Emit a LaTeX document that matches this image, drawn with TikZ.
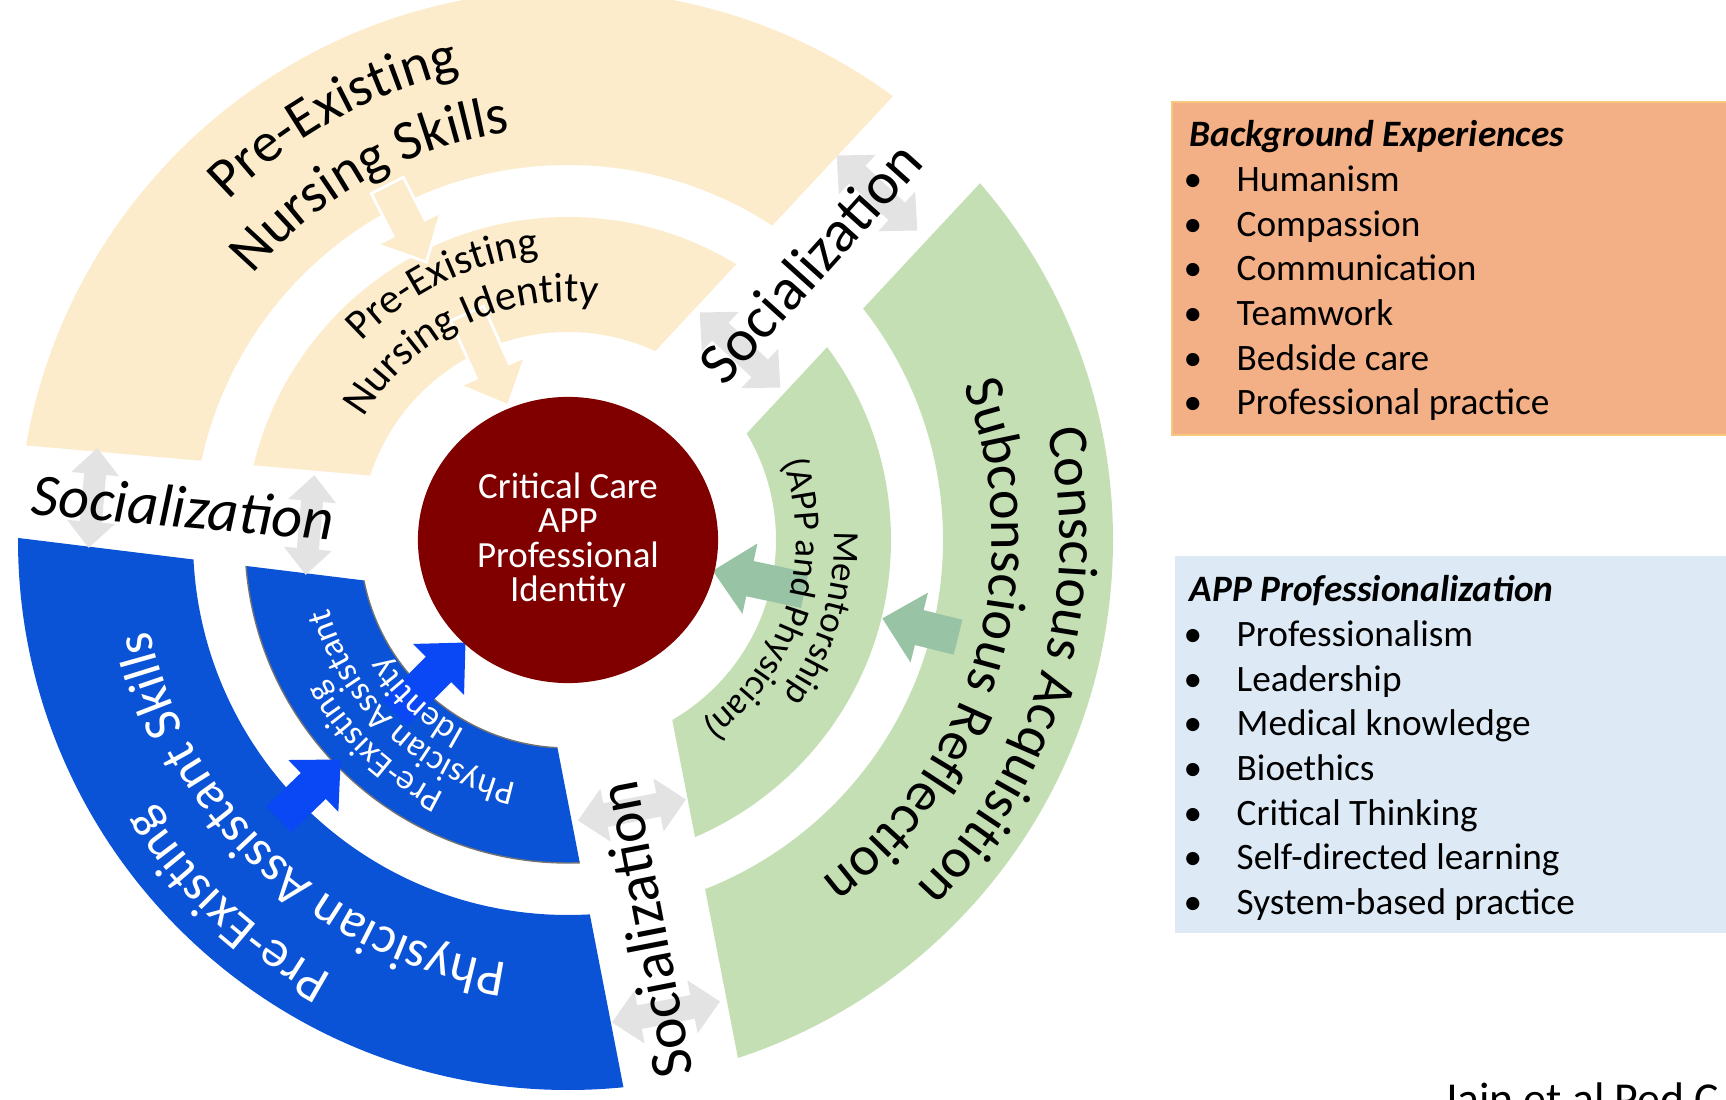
\documentclass[tikz,border=0pt]{standalone}
\usepackage{fontspec}
\setmainfont{Carlito}
\usetikzlibrary{decorations.text,shapes.geometric}
\definecolor{nursing}{HTML}{FCECCB}
\definecolor{mentor}{HTML}{C5DFB4}
\definecolor{mentorarrow}{HTML}{98C3A5}
\definecolor{pablue}{HTML}{0A52D6}
\definecolor{paarrow}{HTML}{0A47F5}
\definecolor{appred}{HTML}{800000}
\definecolor{socgray}{HTML}{E3E3E3}
\definecolor{bgorange}{HTML}{F3AF86}
\definecolor{bgedge}{HTML}{F8C77B}
\definecolor{appblue}{HTML}{DDEAF6}
\newcommand{\bul}{\makebox[4.7mm][l]{\hspace{-0.6mm}•}}

\begin{document}
\begin{tikzpicture}[x=0.01cm, y=0.01cm,
  every node/.style={inner sep=0pt},
  socarrow/.style={fill=socgray},
  soclabel/.style={font=\fontsize{17}{20}\selectfont},
  ringtext/.style={decorate, decoration={text along path, text align=center, text={#1}}},
  listtext/.style={anchor=north west, align=left, font=\fontsize{10.6}{12.7}\selectfont}]
\fill[white] (0,0) rectangle (1726,1099);
\useasboundingbox (0,0) rectangle (1726,1099);

\begin{scope}[shift={(568,559)}]
\begin{scope}
\clip[rotate=175] (-800,-800) rectangle (800,-47);
\clip[rotate=47] (-800,65) rectangle (800,800);
\fill[nursing, even odd rule] (0,0) circle[radius=550] (0,0) circle[radius=375];
\fill[nursing, even odd rule] (0,0) circle[radius=323] (0,0) circle[radius=208];
\end{scope}
\begin{scope}
\clip[rotate=47] (-800,-800) rectangle (800,-58);
\clip[rotate=-79] (-800,68) rectangle (800,800);
\fill[mentor, even odd rule] (0,0) circle[radius=545] (0,0) circle[radius=375];
\fill[mentor, even odd rule] (0,0) circle[radius=323] (0,0) circle[radius=208];
\end{scope}
\begin{scope}
\clip[rotate=-79] (-800,-800) rectangle (800,-50);
\clip[rotate=173] (-800,65) rectangle (800,800);
\fill[pablue, even odd rule] (0,0) circle[radius=550] (0,0) circle[radius=375];
\filldraw[pablue, draw=black!55, line width=0.4pt, even odd rule] (0,0) circle[radius=323] (0,0) circle[radius=208];
\end{scope}

\filldraw[nursing, draw=white, line width=0.8pt, rotate=117] (398,18) -- (350,18) -- (350,36) -- (312,0) -- (350,-36) -- (350,-18) -- (398,-18) -- cycle;
\filldraw[nursing, draw=white, line width=0.8pt, rotate=114] (248,18) -- (185,18) -- (185,36) -- (147,0) -- (185,-36) -- (185,-18) -- (248,-18) -- cycle;
\fill[paarrow, rotate=224] (402,18) -- (354,18) -- (354,36) -- (316,0) -- (354,-36) -- (354,-18) -- (402,-18) -- cycle;
\fill[paarrow, rotate=225] (245,18) -- (183,18) -- (183,36) -- (145,0) -- (183,-36) -- (183,-18) -- (245,-18) -- cycle;
\fill[mentorarrow, rotate=-14] (402,18) -- (362,18) -- (362,36) -- (324,0) -- (362,-36) -- (362,-18) -- (402,-18) -- cycle;
\fill[mentorarrow, rotate=-12] (242,18) -- (186,18) -- (186,36) -- (148,0) -- (186,-36) -- (186,-18) -- (242,-18) -- cycle;

\node[ellipse, fill=appred, minimum width=3cm, minimum height=2.86cm, align=center, text=white, font=\fontsize{10.5}{9.8}\selectfont] (core) at (0,0) {Critical Care\\APP\\Professional\\Identity};

\fill[socarrow, shift={(-475,42)}, rotate=85] (-50,0) -- (-24,24) -- (-24,11) -- (24,11) -- (24,24) -- (50,0) -- (24,-24) -- (24,-11) -- (-24,-11) -- (-24,-24) -- cycle;
\fill[socarrow, shift={(-258,15)}, rotate=85] (-50,0) -- (-24,24) -- (-24,11) -- (24,11) -- (24,24) -- (50,0) -- (24,-24) -- (24,-11) -- (-24,-11) -- (-24,-24) -- cycle;
\fill[socarrow, shift={(172,190)}, rotate=-43] (-55,0) -- (-27,27) -- (-27,12) -- (27,12) -- (27,27) -- (55,0) -- (27,-27) -- (27,-12) -- (-27,-12) -- (-27,-27) -- cycle;
\fill[socarrow, shift={(309,347)}, rotate=-43] (-55,0) -- (-27,27) -- (-27,12) -- (27,12) -- (27,27) -- (55,0) -- (27,-27) -- (27,-12) -- (-27,-12) -- (-27,-27) -- cycle;
\fill[socarrow, shift={(64,-270)}, rotate=11] (-55,0) -- (-27,27) -- (-27,12) -- (27,12) -- (27,27) -- (55,0) -- (27,-27) -- (27,-12) -- (-27,-12) -- (-27,-27) -- cycle;
\fill[socarrow, shift={(98,-472)}, rotate=11] (-55,0) -- (-27,27) -- (-27,12) -- (27,12) -- (27,27) -- (55,0) -- (27,-27) -- (27,-12) -- (-27,-12) -- (-27,-27) -- cycle;

\node[soclabel, rotate=-5] (socleft) at (-385,33) {\itshape Socialization};
\node[soclabel, rotate=48] (socright) at (242,278) {Socialization};
\node[soclabel, rotate=101] (socbottom) at (77,-390) {Socialization};

\path[ringtext={|\fontsize{16}{19}\selectfont|Pre-Existing}] (179:480) arc[start angle=179, end angle=59, radius=480];
\path[ringtext={|\fontsize{16}{19}\selectfont|Nursing Skills}] (179:412) arc[start angle=179, end angle=59, radius=412];
\path[ringtext={|\fontsize{12}{14}\selectfont|Pre-Existing}] (176:286) arc[start angle=176, end angle=56, radius=286];
\path[ringtext={|\fontsize{12}{14}\selectfont|Nursing Identity}] (176:238) arc[start angle=176, end angle=56, radius=238];
\path[ringtext={|\fontsize{16}{19}\selectfont|Conscious Acquisition}] (44:492) arc[start angle=44, end angle=-76, radius=492];
\path[ringtext={|\fontsize{16}{19}\selectfont|Subconscious Reflection}] (44:424) arc[start angle=44, end angle=-76, radius=424];
\path[ringtext={|\fontsize{10.5}{12.5}\selectfont|Mentorship}] (43:266) arc[start angle=43, end angle=-77, radius=266];
\path[ringtext={|\fontsize{10.5}{12.5}\selectfont|(APP and Physician)}] (43:228) arc[start angle=43, end angle=-77, radius=228];
\path[ringtext={|\fontsize{15}{18}\selectfont|Pre-Existing}, decoration={text color=white}] (287:495) arc[start angle=287, end angle=167, radius=495];
\path[ringtext={|\fontsize{15}{18}\selectfont|Physician Assistant Skills}, decoration={text color=white}] (287:428) arc[start angle=287, end angle=167, radius=428];
\path[ringtext={|\fontsize{10}{12}\selectfont|Pre-Existing}, decoration={text color=white}] (287:282) arc[start angle=287, end angle=167, radius=282];
\path[ringtext={|\fontsize{10}{12}\selectfont|Physician Assistant}, decoration={text color=white}] (287:249) arc[start angle=287, end angle=167, radius=249];
\path[ringtext={|\fontsize{10}{12}\selectfont|Identity}, decoration={text color=white}] (287:216) arc[start angle=287, end angle=167, radius=216];
\end{scope}

\filldraw[fill=bgorange, draw=bgedge, line width=0.6pt] (1172,997) rectangle (1740,664);
\node[listtext] (bglist) at (1189,979) {\textbf{\textit{Background Experiences}}\\
\bul Humanism\\
\bul Compassion\\
\bul Communication\\
\bul Teamwork\\
\bul Bedside care\\
\bul Professional practice};

\fill[appblue] (1175,543) rectangle (1740,166);
\node[listtext] (applist) at (1189,524) {\textbf{\textit{APP Professionalization}}\\
\bul Professionalism\\
\bul Leadership\\
\bul Medical knowledge\\
\bul Bioethics\\
\bul Critical Thinking\\
\bul Self-directed learning\\
\bul System-based practice};

\node[anchor=base west, font=\fontsize{13}{15}\selectfont] (cite) at (1442,-15) {Jain et al Ped C};
\end{tikzpicture}
\end{document}
